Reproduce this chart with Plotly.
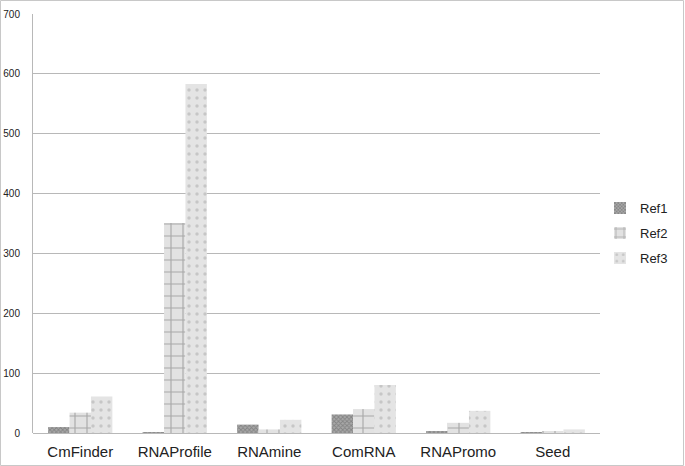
import plotly.graph_objects as go

fnt = "Liberation Sans, Arial, sans-serif"

tools = ["CmFinder", "RNAProfile", "RNAmine", "ComRNA", "RNAPromo", "Seed"]
ref1 = [10, 1, 14, 31, 3, 1]
ref2 = [34, 351, 6, 40, 17, 3]
ref3 = [61, 583, 22, 80, 37, 6]
y_ticks = [0, 100, 200, 300, 400, 500, 600, 700]

fig = go.Figure()

fig.add_trace(go.Bar(
    x=tools, y=ref1, name="Ref1", legendgroup="g1",
    marker=dict(color="#8c8c8c", line=dict(width=0),
                pattern=dict(shape="x", fgcolor="#5e5e5e", bgcolor="#a8a8a8", size=3, solidity=0.5))))
fig.add_trace(go.Bar(
    x=tools, y=ref2, name="Ref2", legendgroup="g2",
    marker=dict(color="#e2e2e2", line=dict(width=0),
                pattern=dict(shape="+", fgcolor="#707070", bgcolor="#e2e2e2", size=12, solidity=0.18))))
fig.add_trace(go.Bar(
    x=tools, y=ref3, name="Ref3", legendgroup="g3",
    marker=dict(color="#e4e4e4", line=dict(width=0),
                pattern=dict(shape=".", fgcolor="#a8a8a8", bgcolor="#e4e4e4", size=8, solidity=0.15))))

fig.update_xaxes(
    showgrid=False,
    showline=False,
    ticks="",
    ticklabelstandoff=8,
    tickfont=dict(family=fnt, size=15, color="#222"))

fig.update_yaxes(
    range=[0, 700],
    tickvals=y_ticks,
    showgrid=True,
    gridcolor="#b8b8b8",
    gridwidth=1,
    zeroline=True,
    zerolinecolor="#b8b8b8",
    zerolinewidth=1,
    showline=True,
    linecolor="#b8b8b8",
    linewidth=1,
    ticks="",
    ticklabelstandoff=10,
    tickfont=dict(family=fnt, size=10, color="#222"))

# outer frame of the picture
fig.add_shape(type="rect", xref="paper", yref="paper",
              x0=-32.5 / 567, x1=(683.5 - 33) / 567, y0=-32.5 / 419, y1=432.5 / 419,
              line=dict(color="#c8c8c8", width=1), fillcolor="rgba(0,0,0,0)", layer="below")

fig.update_layout(
    barmode="group",
    bargap=0.32,
    bargroupgap=0,
    width=685, height=466,
    plot_bgcolor="white",
    paper_bgcolor="white",
    margin=dict(l=33, r=85, t=14, b=33, autoexpand=False),
    showlegend=True,
    legend=dict(x=1.0, y=0.477, xanchor="left", yanchor="middle",
                font=dict(family=fnt, size=13, color="#222"),
                tracegroupgap=5, itemwidth=30, bgcolor="rgba(255,255,255,0)")
)

fig.write_html("out.html", config={"displayModeBar": False},
               post_script="document.body.style.margin='0';document.body.style.overflow='hidden';")
